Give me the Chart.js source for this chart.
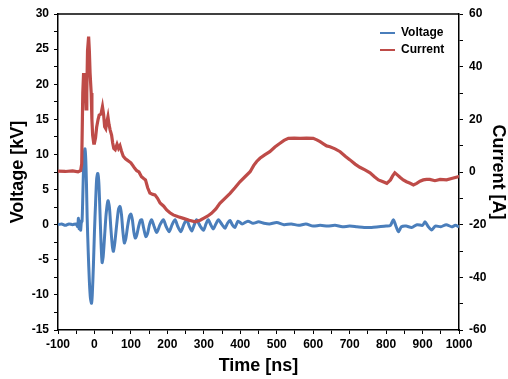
<!DOCTYPE html>
<html>
<head>
<meta charset="utf-8">
<script src="https://cdn.jsdelivr.net/npm/chart.js@4/dist/chart.umd.min.js"></script>
<style>
html,body{margin:0;padding:0;background:#fff;}
#wrap{width:508px;height:379px;}
</style>
</head>
<body>
<div id="wrap"><canvas id="c" width="508" height="379"></canvas></div>
<script>
// ---- data ----
const seriesNames = ["Voltage", "Current"];

const voltageTime = [-100,-90,-80,-70,-60,-50,-46,-44,-42,-40,-38,-36,-34,-32,-30,-28,-26,-24,-22,-20,-17,-14,-11,-8,-6,-3,0,3,6,9,12,15,18,21,24,28,32,37,41,45,49,52,56,61,66,70,74,78,82,86,91,96,100,104,108,112,116,121,126,130,135,141,146,151,157,164,171,180,189,197,205,213,221,229,237,245,253,260,267,274,280,290,299,306,312,319,326,333,340,350,358,365,372,378,385,394,405,421,435,450,465,480,500,520,540,560,580,600,619,640,660,680,700,720,740,760,780,800,812,820,827,834,842,855,870,885,900,907,916,925,935,950,965,980,990,1000];
const voltageKV = [0,0.1,-0.1,0.1,0,0.1,-0.3,0.9,-0.6,0.5,-0.8,0.3,0.5,4,8,10.2,10.8,9.5,6,1,-4,-8,-10.5,-11.2,-10,-6,-1,3,6.5,7.3,6,2,-2.5,-5.4,-4.5,-1.5,1.5,3.4,2.5,-0.5,-3,-3.8,-2.5,0,2.2,2.6,1.5,-1,-2.6,-2,-0.2,1.2,1.5,0.7,-1,-1.9,-1.5,-0.3,0.6,0.7,-0.5,-1.7,-1.2,0,0.7,-0.3,-1.1,0,0.7,-0.3,-1.0,0,0.7,-0.3,-1.0,0,0.7,-0.2,-0.9,0,0.7,-0.2,-0.8,0.1,0.7,0,-0.6,0.1,0.7,0,-0.5,0.2,0.6,0,-0.4,0.5,0.1,0.5,0.2,0.4,0.2,0.1,0.3,0,0.1,-0.1,0.1,-0.2,-0.1,-0.2,-0.1,-0.3,-0.2,-0.3,-0.4,-0.4,-0.3,-0.2,-0.1,0.7,-0.2,-1.0,-0.3,-0.2,-0.4,0,-0.1,0.4,-0.3,-0.75,-0.2,-0.3,0,-0.3,-0.1,-0.3];

const currentTime = [-100,-80,-60,-45,-38,-35,-32,-30,-26,-23,-21,-19,-16,-14,-12,-9,-7,-5,-2,0,3,6,10,13,18,22,25,28,31,34,37,40,43,47,50,53,57,62,66,70,74,79,85,90,95,100,105,110,116,122,129,135,140,146,152,160,166,173,180,190,198,207,216,230,244,260,276,290,299,310,321,333,344,358,372,386,399,413,427,437,445,454,467,481,495,509,520,532,548,564,582,600,610,619,628,637,646,660,674,688,701,715,728,742,756,768,779,790,802,812,818,824,830,838,847,856,866,875,884,893,902,911,920,934,948,966,982,998,1000];
const currentA = [0.3,0.2,0.4,0.1,0.5,3,30,37,37,24,30,46,51.4,46,37.6,30,20,14,11,11,13,17,20,21.6,22,24.8,22,17.2,16.5,19,21,18,16,14,11,9,8.5,10.5,9,10,8,6,5,4.5,4,3.5,2.5,1.5,0.5,0,-1.8,-2.5,-3,-6,-8,-8.5,-8.7,-10,-11.8,-13,-14.4,-15.5,-16.3,-17,-17.6,-18.3,-18.9,-18.3,-17.6,-16.8,-15.7,-14,-11.9,-10,-8.1,-5.9,-3.7,-1.8,0.1,2.5,4,5.2,6.5,7.7,9.5,10.9,12,12.8,12.9,12.8,12.9,12.8,12.2,11.5,10.7,9.9,9.6,8.8,7.7,6,4.6,3,1.8,0.8,-0.3,-1.8,-3,-3.6,-4.3,-3,-1.5,-0.3,-1,-2,-3,-3.7,-4.3,-4.9,-4.3,-3.5,-3,-2.8,-2.8,-3.3,-2.8,-3,-2.4,-1.8,-2];

const timeRange = [-100, 1000];
const voltageRange = [-15, 30];
const currentRange = [-60, 60];
const colors = { voltage: "#4a7ebb", current: "#be4b48" };

function pts(xs, ys){ return xs.map((x,i)=>({x:x, y:ys[i]})); }

// ---- chart ----
Chart.defaults.font.family = "'Liberation Sans', Arial, sans-serif";
Chart.defaults.font.weight = "bold";
Chart.defaults.color = "#000";

const tickFont = {size: 12, weight: "bold"};
const titleFont = {size: 18, weight: "bold", lineHeight: 1};
const isMult = (v, m) => Math.abs(v/m - Math.round(v/m)) < 1e-6;

const topBorder = {
  id: "topBorder",
  afterDraw(chart){
    const {ctx, chartArea:a} = chart;
    ctx.save();
    ctx.strokeStyle = "#000"; ctx.lineWidth = 1.5;
    ctx.beginPath(); ctx.moveTo(a.left, a.top); ctx.lineTo(a.right, a.top); ctx.stroke();
    ctx.restore();
  }
};
const legendInside = {
  id: "legendInside",
  afterLayout(chart){
    const lg = chart.legend; if(!lg) return;
    const a = chart.chartArea;
    lg.left = a.right - 84; lg.top = a.top + 8;
    lg.width = 100; lg.height = 60;
    lg.right = lg.left + lg.width; lg.bottom = lg.top + lg.height;
  }
};

new Chart(document.getElementById("c"), {
  type: "line",
  data: {
    datasets: [
      { label: seriesNames[0], data: pts(voltageTime, voltageKV), yAxisID: "yV",
        borderColor: colors.voltage, backgroundColor: colors.voltage, borderWidth: 3,
        pointRadius: 0, tension: 0.25, order: 2 },
      { label: seriesNames[1], data: pts(currentTime, currentA), yAxisID: "yI",
        borderColor: colors.current, backgroundColor: colors.current, borderWidth: 3.2,
        pointRadius: 0, tension: 0, order: 1 }
    ]
  },
  options: {
    responsive: false, devicePixelRatio: 1, animation: false,
    layout: { padding: { top: 14, left: 0, right: 0, bottom: 0 } },
    plugins: {
      tooltip: {enabled: false},
      legend: {
        position: "right", align: "start", maxWidth: 1,
        labels: {
          usePointStyle: true, pointStyle: "line", pointStyleWidth: 15,
          padding: 5, textAlign: "left", color: "#000",
          font: {size: 12, weight: "bold"},
          sort: (a,b) => a.datasetIndex - b.datasetIndex,
          generateLabels(chart){
            const items = Chart.defaults.plugins.legend.labels.generateLabels(chart);
            items.forEach(it => { it.lineWidth = 2; });
            return items;
          }
        }
      }
    },
    scales: {
      x: {
        type: "linear", position: "bottom", min: timeRange[0], max: timeRange[1],
        afterFit(s){ s.height = 49; },
        border: {display: true, color: "#000", width: 1.5},
        grid: {drawOnChartArea: false, drawTicks: true, tickLength: 4, color: "#000", lineWidth: 1},
        ticks: {stepSize: 50, maxTicksLimit: 100, autoSkip: false, maxRotation: 0, padding: 3, font: tickFont,
                callback: v => isMult(v,100) ? String(Math.round(v)) : ""},
        title: {display: true, text: "Time [ns]", font: titleFont, padding: {top: 0, bottom: 4}}
      },
      yV: {
        type: "linear", position: "left", min: voltageRange[0], max: voltageRange[1],
        afterFit(s){ s.width = 58; },
        border: {display: true, color: "#000", width: 1.5},
        grid: {drawOnChartArea: false, drawTicks: true, tickLength: 4, color: "#000", lineWidth: 1},
        ticks: {stepSize: 2.5, maxTicksLimit: 100, autoSkip: false, padding: 5, font: tickFont,
                callback: v => isMult(v,5) ? String(Math.round(v)) : ""},
        title: {display: true, text: "Voltage [kV]", font: titleFont, padding: {top: 9, bottom: 0}}
      },
      yI: {
        type: "linear", position: "right", min: currentRange[0], max: currentRange[1],
        afterFit(s){ s.width = 48; },
        border: {display: true, color: "#000", width: 1.5},
        grid: {drawOnChartArea: false, drawTicks: true, tickLength: 4, color: "#000", lineWidth: 1},
        ticks: {stepSize: 10, maxTicksLimit: 100, autoSkip: false, padding: 6, font: tickFont,
                callback: v => isMult(v,20) ? String(Math.round(v)) : ""},
        title: {display: true, text: "Current [A]", font: titleFont, padding: {top: 0, bottom: 0}}
      }
    }
  },
  plugins: [topBorder, legendInside]
});
</script>
</body>
</html>
